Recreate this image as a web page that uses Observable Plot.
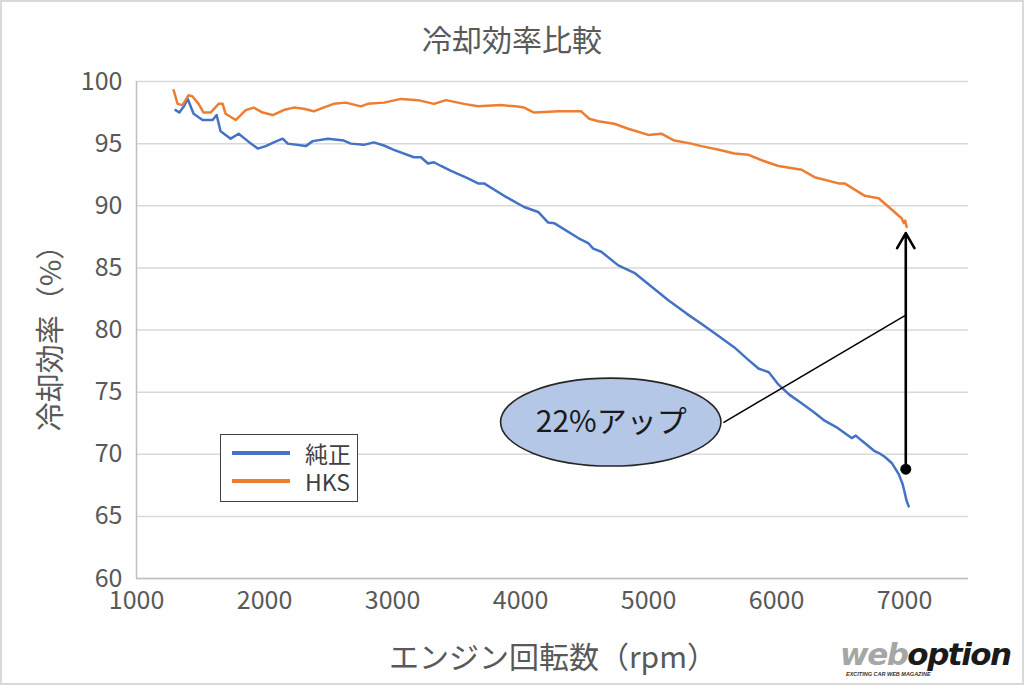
<!DOCTYPE html>
<html><head><meta charset="utf-8">
<script src="https://cdn.jsdelivr.net/npm/d3@7"></script>
<script src="https://cdn.jsdelivr.net/npm/@observablehq/plot@0.6"></script>
<style>
html,body{margin:0;padding:0;background:#fff;}
#wrap{position:relative;width:1024px;height:685px;overflow:hidden;font-family:"Noto Sans CJK JP","Noto Sans",sans-serif;color:#595959;}
#wrap svg{position:absolute;left:0;top:0;}
.abs{position:absolute;white-space:nowrap;}
#border{position:absolute;left:0;top:0;width:1024px;height:685px;box-sizing:border-box;border:2px solid #d9d9d9;pointer-events:none;}
</style></head>
<body>
<div id="wrap"></div>
<script>
// ---- data ----
const seriesNames = ["純正", "HKS"];
const seriesColors = ["#4472c4", "#ed7d31"];
const stockRpm = [1305,1335,1370,1400,1446,1516,1595,1626,1657,1736,1798,1870,1947,2010,2072,2142,2182,2322,2377,2495,2620,2675,2776,2854,2933,3011,3167,3222,3277,3324,3379,3457,3590,3668,3715,3872,4028,4138,4216,4263,4451,4529,4568,4631,4764,4889,4998,5155,5300,5413,5550,5671,5780,5859,5940,6016,6100,6196,6290,6376,6480,6587,6620,6665,6760,6800,6845,6900,6955,6985,7002,7015,7033];
const stockEff = [97.7,97.5,98.0,98.6,97.4,96.9,96.9,97.3,96.0,95.4,95.8,95.2,94.6,94.8,95.1,95.4,95.0,94.8,95.2,95.4,95.25,95.0,94.9,95.1,94.85,94.5,93.9,93.9,93.4,93.5,93.2,92.8,92.2,91.8,91.8,90.8,89.9,89.5,88.65,88.6,87.4,87.0,86.55,86.3,85.2,84.6,83.7,82.4,81.3,80.5,79.5,78.6,77.6,76.9,76.6,75.6,74.8,74.1,73.4,72.7,72.1,71.3,71.5,71.1,70.3,70.1,69.8,69.3,68.4,67.6,66.9,66.3,65.8];
const hksRpm = [1290,1321,1360,1407,1438,1485,1524,1579,1642,1673,1696,1775,1853,1915,1986,2064,2150,2228,2307,2385,2460,2541,2635,2753,2808,2933,3066,3199,3324,3418,3559,3668,3848,3960,4028,4106,4300,4474,4537,4607,4732,4842,4998,5100,5202,5335,5413,5550,5671,5781,5900,6016,6196,6297,6485,6532,6690,6798,6877,6955,6978,6994,7005,7017];
const hksEff = [99.3,98.2,98.1,98.9,98.8,98.2,97.5,97.5,98.2,98.2,97.4,96.9,97.7,97.9,97.5,97.3,97.7,97.9,97.8,97.6,97.9,98.2,98.3,98.0,98.2,98.3,98.6,98.5,98.2,98.5,98.2,98.0,98.1,98.0,97.9,97.5,97.6,97.6,97.0,96.8,96.6,96.2,95.7,95.8,95.25,95.0,94.8,94.5,94.2,94.1,93.6,93.2,92.9,92.3,91.8,91.8,90.8,90.6,89.9,89.2,89.0,88.6,88.8,88.3];
const xTicks = [1000,2000,3000,4000,5000,6000,7000];
const yTicks = [60,65,70,75,80,85,90,95,100];
const xDomain = [1000, 7500];
const yDomain = [60, 100];
// annotation (data units)
const arrowRpm = [7010];
const arrowFrom = [68.8];
const arrowTo = [87.8];
const calloutRpm = [4709];
const calloutEff = [72.55];
const calloutHalfW = [861];
const calloutHalfH = [3.54];
const calloutText = ["22%アップ"];
const connectorFrom = [5585, 72.55];
const connectorTo = [7010, 81.2];
const titleText = "冷却効率比較";
const yLabelText = "冷却効率（%）";
const xLabelText = "エンジン回転数（rpm）";

// ---- build ----
const stock = stockRpm.map((r,i)=>({rpm:r, eff:stockEff[i]}));
const hks = hksRpm.map((r,i)=>({rpm:r, eff:hksEff[i]}));
const FONT = '"Noto Sans CJK JP","Noto Sans",sans-serif';

const ellipseMark = (index, scales) => {
  const ns = "http://www.w3.org/2000/svg";
  const g = document.createElementNS(ns, "g");
  calloutRpm.forEach((r,i)=>{
    const e = document.createElementNS(ns, "ellipse");
    const cx = scales.x(r), cy = scales.y(calloutEff[i]);
    e.setAttribute("cx", cx);
    e.setAttribute("cy", cy);
    e.setAttribute("rx", scales.x(r + calloutHalfW[i]) - cx);
    e.setAttribute("ry", scales.y(calloutEff[i] - calloutHalfH[i]) - cy);
    e.setAttribute("fill", "#b4c7e7");
    e.setAttribute("stroke", "#262626");
    e.setAttribute("stroke-width", "1.6");
    g.appendChild(e);
  });
  return g;
};

const plot = Plot.plot({
  width: 1024, height: 685,
  marginLeft: 136, marginRight: 56, marginTop: 81, marginBottom: 107,
  style: {fontFamily: FONT, fontSize: "25px", color: "#595959", background: "transparent", overflow: "visible"},
  x: {domain: xDomain, ticks: xTicks, tickSize: 0, tickPadding: 13, tickFormat: d => String(d), label: null},
  y: {domain: yDomain, ticks: yTicks, tickSize: 0, tickPadding: 14, label: null},
  marks: [
    Plot.gridY(yTicks, {stroke: "#d9d9d9", strokeOpacity: 1, strokeWidth: 1.5}),
    Plot.ruleX([xDomain[0]], {stroke: "#bfbfbf", strokeWidth: 1.5}),
    Plot.ruleY([yDomain[0]], {stroke: "#bfbfbf", strokeWidth: 1.5}),
    Plot.line(stock, {x: "rpm", y: "eff", stroke: seriesColors[0], strokeWidth: 2.5}),
    Plot.line(hks, {x: "rpm", y: "eff", stroke: seriesColors[1], strokeWidth: 2.5}),
    Plot.link([0], {x1: () => connectorFrom[0], y1: () => connectorFrom[1], x2: () => connectorTo[0], y2: () => connectorTo[1], stroke: "#000", strokeWidth: 1.5}),
    ellipseMark,
    Plot.text(calloutText, {x: (d,i) => calloutRpm[i], y: (d,i) => calloutEff[i], text: d => d, fontSize: 30, fill: "#1a1a1a", fontFamily: FONT}),
    Plot.arrow(arrowRpm, {x1: d => d, y1: (d,i) => arrowFrom[i], x2: d => d, y2: (d,i) => arrowTo[i], stroke: "#000", strokeWidth: 2.6, headLength: 10, headAngle: 60}),
    Plot.dot(arrowRpm, {x: d => d, y: (d,i) => arrowFrom[i], r: 5.5, fill: "#000"})
  ]
});

const wrap = document.getElementById("wrap");
wrap.appendChild(plot);

function addDiv(html, css){
  const d = document.createElement("div");
  d.className = "abs";
  d.innerHTML = html;
  Object.assign(d.style, css);
  wrap.appendChild(d);
  return d;
}
// title
addDiv(titleText, {left:"0px", width:"1024px", textAlign:"center", top:"17px", fontSize:"30px", lineHeight:"42px", color:"#595959"});
// y label
addDiv(yLabelText, {left:"48px", top:"331px", fontSize:"29px", lineHeight:"36px", color:"#595959", transform:"translate(-50%,-50%) rotate(-90deg)"});
// x label
addDiv(xLabelText, {left:"553px", top:"655px", fontSize:"30px", lineHeight:"38px", color:"#595959", transform:"translate(-50%,-50%)"});
// legend
const leg = addDiv("", {left:"220px", top:"434px", width:"138px", height:"68px", boxSizing:"border-box", border:"1.5px solid #404040", background:"#fff"});
seriesNames.forEach((n,i)=>{
  const row = document.createElement("div");
  Object.assign(row.style, {position:"absolute", left:"0px", top:(4+i*28)+"px", height:"28px", width:"136px"});
  row.innerHTML = `<span style="position:absolute;left:11px;top:12px;width:58px;height:4px;background:${seriesColors[i]}"></span><span style="position:absolute;left:84px;top:2px;font-size:23px;line-height:24px;color:#404040">${n}</span>`;
  leg.appendChild(row);
});
// watermark
addDiv('<span style="color:#a6a6a6">web</span><span style="color:#1a1a1a">option</span>', {left:"840px", top:"636px", fontFamily:'"DejaVu Sans",sans-serif', fontWeight:"bold", fontStyle:"italic", fontSize:"31px", lineHeight:"36px", letterSpacing:"-1.5px"});
addDiv('EXCITING CAR WEB MAGAZINE', {left:"846px", top:"671px", fontFamily:'"Liberation Sans",sans-serif', fontWeight:"bold", fontStyle:"italic", fontSize:"5.5px", lineHeight:"6px", color:"#333"});
const b = document.createElement("div"); b.id = "border"; wrap.appendChild(b);
</script>
</body></html>
